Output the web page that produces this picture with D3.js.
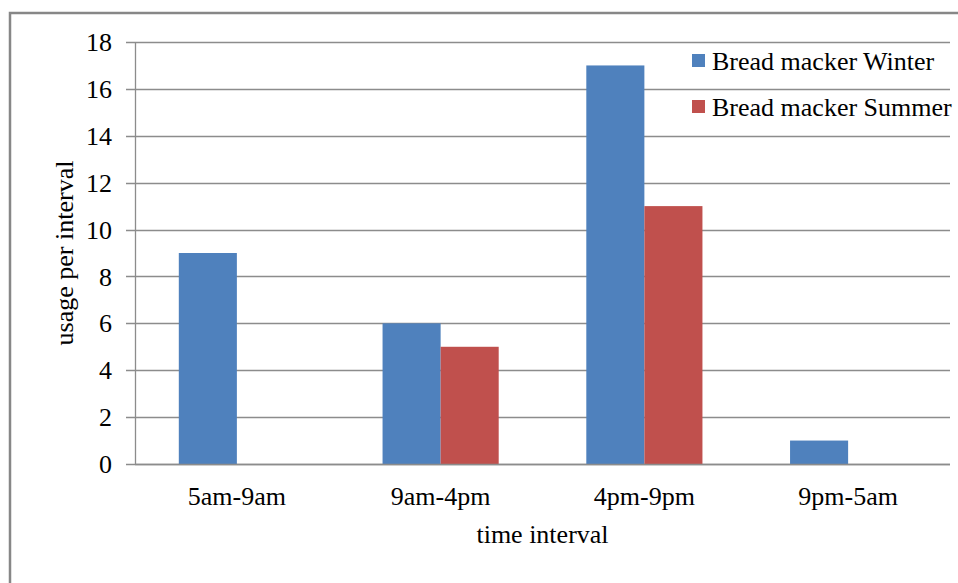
<!DOCTYPE html>
<html>
<head>
<meta charset="utf-8">
<script src="https://cdn.jsdelivr.net/npm/d3@7"></script>
<style>
  body { margin: 0; background: #fff; }
  text { font-family: "Liberation Serif", "Times New Roman", serif; fill: #000; font-size: 26px; }
</style>
</head>
<body>
<div id="chart"></div>
<script>
// chart data
const categories = ["5am-9am", "9am-4pm", "4pm-9pm", "9pm-5am"];
const seriesNames = ["Bread macker Winter", "Bread macker Summer"];
const winter = [9, 6, 17, 1];
const summer = [0, 5, 11, 0];
const yTicks = [0, 2, 4, 6, 8, 10, 12, 14, 16, 18];
const colors = ["#4F81BD", "#C0504D"];

const W = 958, H = 583;
const margin = { top: 42, right: 8, bottom: 119, left: 135 };
const width = W - margin.left - margin.right;
const height = H - margin.top - margin.bottom;

const svg = d3.select("#chart").append("svg")
    .attr("width", W)
    .attr("height", H);

// outer frame
svg.append("rect")
    .attr("x", 10).attr("y", 13)
    .attr("width", 980).attr("height", 620)
    .attr("fill", "none")
    .attr("stroke", "#878787")
    .attr("stroke-width", 2.5);

const g = svg.append("g")
    .attr("transform", `translate(${margin.left}, ${margin.top})`);

const x = d3.scaleBand().domain(categories).range([0, width]).paddingInner(0).paddingOuter(0);
const x1 = d3.scaleBand().domain(seriesNames).range([x.bandwidth() * 0.215, x.bandwidth() * 0.785]);
const y = d3.scaleLinear().domain([0, 18]).range([height, 0]);

// gridlines
g.append("g")
    .selectAll("line")
    .data(yTicks)
    .join("line")
    .attr("x1", -9).attr("x2", width)
    .attr("y1", d => Math.round(y(d)) + 0.5)
    .attr("y2", d => Math.round(y(d)) + 0.5)
    .attr("stroke", "#8c8c8c")
    .attr("stroke-width", 1.3);

// y axis line
g.append("line")
    .attr("x1", 0.5).attr("x2", 0.5)
    .attr("y1", 0).attr("y2", height)
    .attr("stroke", "#8c8c8c")
    .attr("stroke-width", 1.3);

// y tick labels
g.append("g")
    .selectAll("text")
    .data(yTicks)
    .join("text")
    .attr("x", -23)
    .attr("y", d => y(d))
    .attr("dy", "0.35em")
    .attr("text-anchor", "end")
    .text(d => d);

// bars
const groups = g.append("g")
    .selectAll("g")
    .data(categories)
    .join("g")
    .attr("transform", d => `translate(${x(d)}, 0)`);

groups.selectAll("rect")
    .data((d, i) => [
        { name: seriesNames[0], value: winter[i] },
        { name: seriesNames[1], value: summer[i] }
    ])
    .join("rect")
    .attr("x", d => x1(d.name))
    .attr("width", x1.bandwidth())
    .attr("y", d => y(d.value))
    .attr("height", d => height - y(d.value))
    .attr("fill", (d, i) => colors[i]);

// baseline redrawn on top
g.append("line")
    .attr("x1", 0).attr("x2", width)
    .attr("y1", Math.round(y(0)) + 0.5).attr("y2", Math.round(y(0)) + 0.5)
    .attr("stroke", "#8c8c8c")
    .attr("stroke-width", 1.3);

// x tick labels
g.append("g")
    .selectAll("text")
    .data(categories)
    .join("text")
    .attr("x", d => x(d) + x.bandwidth() / 2)
    .attr("y", height + 41)
    .attr("text-anchor", "middle")
    .text(d => d);

// axis titles
g.append("text")
    .attr("x", width / 2)
    .attr("y", height + 79)
    .attr("text-anchor", "middle")
    .text("time interval");

g.append("text")
    .attr("transform", "rotate(-90)")
    .attr("x", -height / 2)
    .attr("y", -62)
    .attr("text-anchor", "middle")
    .text("usage per interval");

// legend
const legend = svg.append("g")
    .attr("transform", "translate(692, 54)");

const items = legend.selectAll("g")
    .data(seriesNames)
    .join("g")
    .attr("transform", (d, i) => `translate(0, ${i * 46})`);

items.append("rect")
    .attr("width", 13).attr("height", 13)
    .attr("fill", (d, i) => colors[i]);

items.append("text")
    .attr("x", 20)
    .attr("y", 7)
    .attr("dy", "0.35em")
    .text(d => d);
</script>
</body>
</html>
